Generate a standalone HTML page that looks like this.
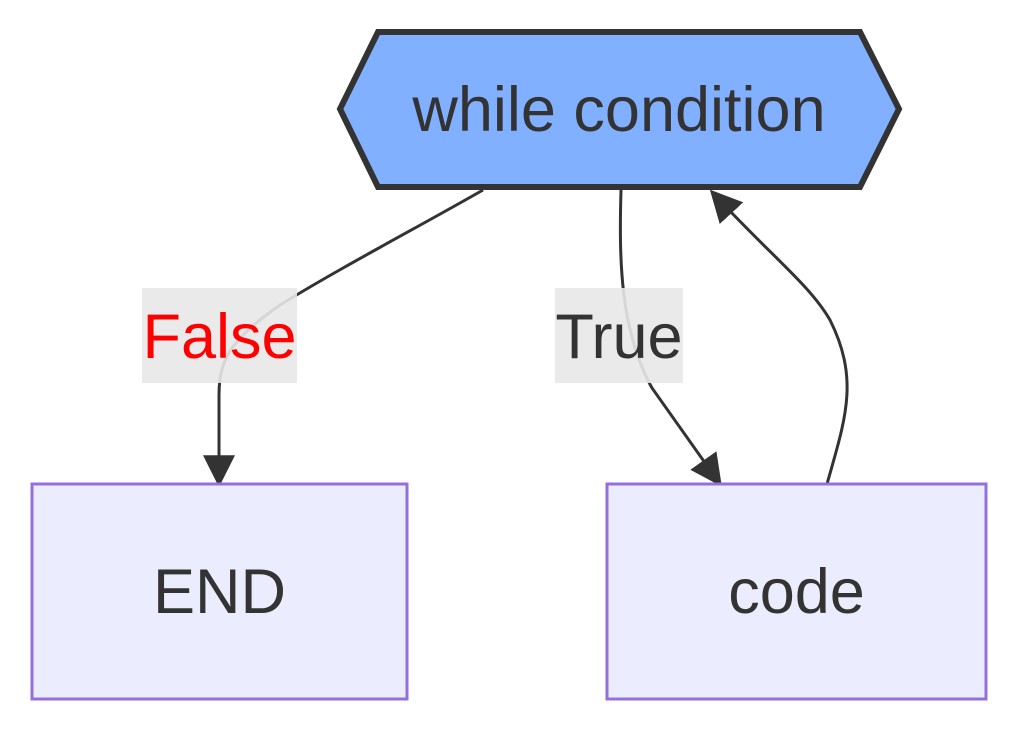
<!DOCTYPE html>
<html><head><meta charset="utf-8"><style>
html,body{margin:0;padding:0;background:#fff;width:1016px;height:732px;overflow:hidden}
svg{display:block}
text{font-family:"Liberation Sans",sans-serif}
</style></head><body>
<svg width="1016" height="732" viewBox="0 0 1016 732" xmlns="http://www.w3.org/2000/svg">
<defs>
<marker id="a" viewBox="0 0 10 10" refX="9" refY="5" markerWidth="32" markerHeight="32" markerUnits="userSpaceOnUse" orient="auto">
<path d="M0,0 L10,5 L0,10 z" fill="#333"/>
</marker>
</defs>
<path d="M483,190 C420,226 340,268 280,305 C230,340 219,360 219,395 L219,484" fill="none" stroke="#333" stroke-width="3" marker-end="url(#a)"/>
<path d="M621,190 C619,260 620,330 652,388 L720,484" fill="none" stroke="#333" stroke-width="3" marker-end="url(#a)"/>
<path d="M827,484 C845,420 860,380 830,320 C810,285 770,255 712,192" fill="none" stroke="#333" stroke-width="3" marker-end="url(#a)"/>
<rect x="142" y="288" width="155" height="95" fill="#e8e8e8" opacity="0.9"/>
<text x="219.5" y="358" font-size="63" fill="#ff0000" text-anchor="middle">False</text>
<rect x="555" y="288" width="128" height="95" fill="#e8e8e8" opacity="0.9"/>
<text x="619" y="358" font-size="63" fill="#333" text-anchor="middle">True</text>
<polygon points="340,109 378,32 860,32 899,109 860,187 378,187" fill="#80b0ff" stroke="#333" stroke-width="6"/>
<text x="619" y="131" font-size="63" fill="#333" text-anchor="middle">while condition</text>
<rect x="32" y="484" width="375" height="215" fill="#ececff" stroke="#9370db" stroke-width="3"/>
<text x="219.5" y="613" font-size="63" fill="#333" text-anchor="middle">END</text>
<rect x="607" y="484" width="379" height="215" fill="#ececff" stroke="#9370db" stroke-width="3"/>
<text x="796.5" y="613" font-size="63" fill="#333" text-anchor="middle">code</text>
</svg>
</body></html>
